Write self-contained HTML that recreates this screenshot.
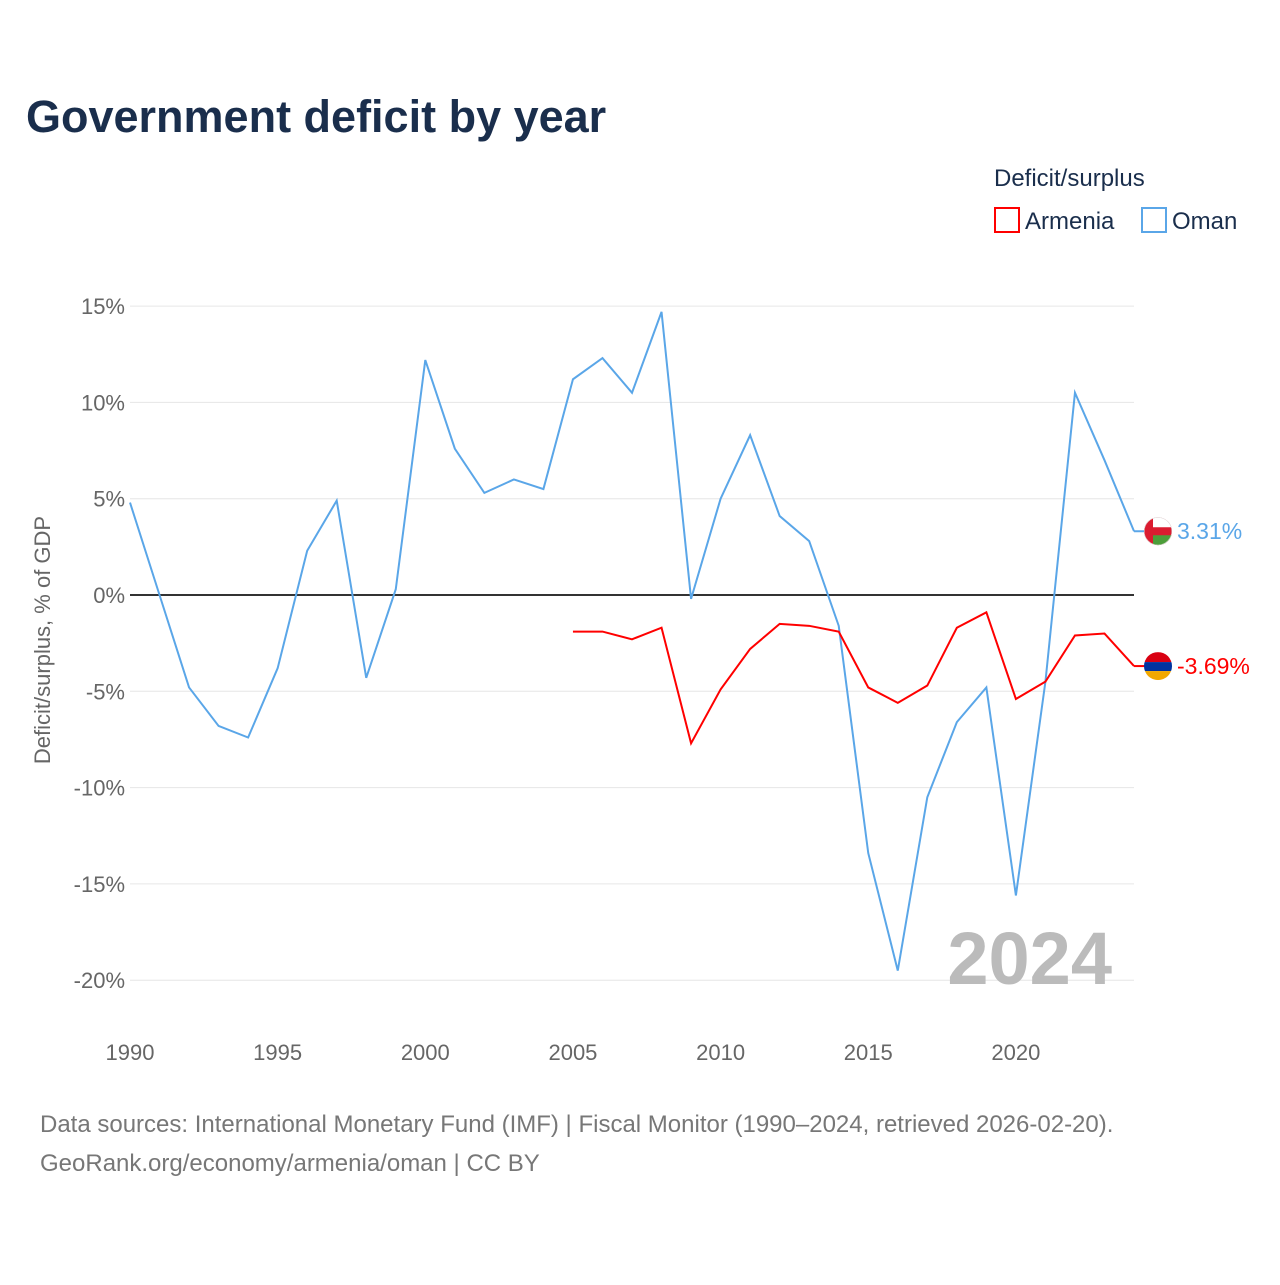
<!DOCTYPE html>
<html><head><meta charset="utf-8"><style>
body{margin:0;background:#fff;font-family:"Liberation Sans",sans-serif}
</style></head><body>
<svg id="c" width="1280" height="1280" xmlns="http://www.w3.org/2000/svg" font-family="Liberation Sans, sans-serif">
<defs>
<clipPath id="cpO"><circle id="cO" cx="1158" cy="0" r="14"/></clipPath>
<clipPath id="cpA"><circle id="cA" cx="1158" cy="0" r="14"/></clipPath>
</defs>
<rect width="1280" height="1280" fill="#fff"/>
<text x="26" y="132" font-size="45" font-weight="bold" fill="#1a2e4c">Government deficit by year</text>
<text x="994" y="186" font-size="24" fill="#1a2e4c">Deficit/surplus</text>
<g><rect x="995" y="208" width="24" height="24" fill="none" stroke="#f00" stroke-width="2"/><text x="1025" y="229" font-size="24" fill="#1a2e4c">Armenia</text></g>
<g><rect x="1142" y="208" width="24" height="24" fill="none" stroke="#5aa6e8" stroke-width="2"/><text x="1172" y="229" font-size="24" fill="#1a2e4c">Oman</text></g>
<text transform="translate(50,640) rotate(-90)" text-anchor="middle" font-size="22" fill="#666">Deficit/surplus, % of GDP</text>
<g id="grid"></g><g id="marks"></g>
<text x="1112" y="984" text-anchor="end" font-size="74" font-weight="bold" fill="#bbb">2024</text>
<text x="40" y="1132" font-size="24" fill="#777">Data sources: International Monetary Fund (IMF) | Fiscal Monitor (1990–2024, retrieved 2026-02-20).</text>
<text x="40" y="1171" font-size="24" fill="#777">GeoRank.org/economy/armenia/oman | CC BY</text>
</svg>
<script>
const yTicks=[15,10,5,0,-5,-10,-15,-20];
const xTicks=[1990,1995,2000,2005,2010,2015,2020];
const omanYears=[1990,1991,1992,1993,1994,1995,1996,1997,1998,1999,2000,2001,2002,2003,2004,2005,2006,2007,2008,2009,2010,2011,2012,2013,2014,2015,2016,2017,2018,2019,2020,2021,2022,2023,2024];
const omanVals=[4.8,0,-4.8,-6.8,-7.4,-3.8,2.3,4.9,-4.3,0.3,12.2,7.6,5.3,6.0,5.5,11.2,12.3,10.5,14.7,-0.2,5.0,8.3,4.1,2.8,-1.6,-13.4,-19.5,-10.5,-6.6,-4.8,-15.6,-4.5,10.5,7.0,3.31];
const armYears=[2005,2006,2007,2008,2009,2010,2011,2012,2013,2014,2015,2016,2017,2018,2019,2020,2021,2022,2023,2024];
const armVals=[-1.9,-1.9,-2.3,-1.7,-7.7,-4.9,-2.8,-1.5,-1.6,-1.9,-4.8,-5.6,-4.7,-1.7,-0.9,-5.4,-4.5,-2.1,-2.0,-3.69];
const X=y=>130+(y-1990)*29.53, Y=v=>595-v*19.26;
const NS="http://www.w3.org/2000/svg";
const g=document.getElementById('grid'), m=document.getElementById('marks');
function el(t,a,p){const e=document.createElementNS(NS,t);for(const k in a)e.setAttribute(k,a[k]);p.appendChild(e);return e;}
yTicks.forEach(v=>{
 const l=el('line',{x1:130,x2:1134,y1:Y(v),y2:Y(v),stroke:v===0?'#333':'#e6e6e6','stroke-width':v===0?2:1},g);
 
 
 const t=el('text',{x:125,y:Y(v)+8,'text-anchor':'end','font-size':22,fill:'#666'},g);t.textContent=v+'%';
 
 
});
xTicks.forEach(y=>{
 const t=el('text',{x:X(y),y:1060,'text-anchor':'middle','font-size':22,fill:'#666'},g);t.textContent=y;
 
 
});
function series(ys,vs,col,name){
 const pts=ys.map((y,i)=>X(y)+','+Y(vs[i])).join(' ');
 const p=el('polyline',{points:pts,fill:'none',stroke:col,'stroke-width':2},m);
 
 
 const lv=vs[vs.length-1], ly=Y(lv), lx=X(ys[ys.length-1]);
 el('line',{x1:lx,x2:1150,y1:ly,y2:ly,stroke:col,'stroke-width':2},m);
 const t=el('text',{x:1177,y:ly+8,'font-size':23,fill:col},m);t.textContent=lv.toFixed(2)+'%';
 
 
 return ly;
}
const oy=series(omanYears,omanVals,'#5aa6e8','oman');
const ay=series(armYears,armVals,'#f00','armenia');
document.getElementById('cO').setAttribute('cy',oy);
document.getElementById('cA').setAttribute('cy',ay);
const fo=el('g',{'clip-path':'url(#cpO)'},m);


el('rect',{x:1144,y:oy-14,width:28,height:28,fill:'#db1c30'},fo);
el('rect',{x:1153,y:oy-14,width:19,height:10,fill:'#fff'},fo);
el('rect',{x:1153,y:oy+4,width:19,height:10,fill:'#4d9e3a'},fo);
el('circle',{cx:1158,cy:oy,r:14,fill:'none',stroke:'#ddd','stroke-width':1},fo);
const fa=el('g',{'clip-path':'url(#cpA)'},m);


el('rect',{x:1144,y:ay-14,width:28,height:10,fill:'#d90012'},fa);
el('rect',{x:1144,y:ay-4,width:28,height:9,fill:'#0033a0'},fa);
el('rect',{x:1144,y:ay+5,width:28,height:9,fill:'#f2a800'},fa);
</script>
</body></html>
